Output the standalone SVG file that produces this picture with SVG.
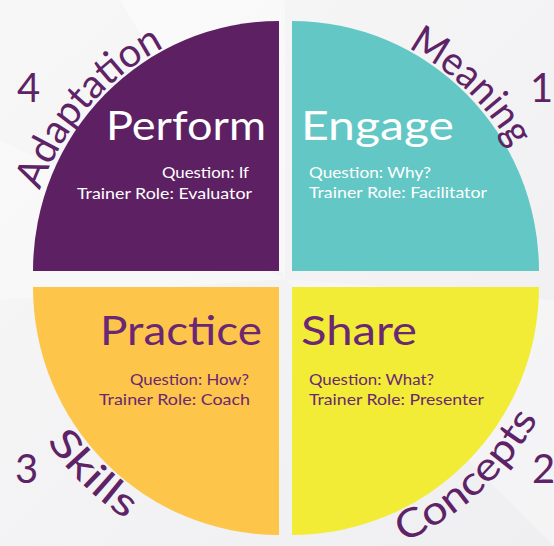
<svg xmlns="http://www.w3.org/2000/svg" width="554" height="546" viewBox="0 0 554 546">
  <defs>
    <path id="arcTop" d="M24.5,278.5 A261,261 0 0 1 546.5,278.5"/>
    <path id="arcBottom" d="M-3.5,278.5 A289,289 0 0 0 574.5,278.5"/>
    <linearGradient id="bg" x1="0" y1="0" x2="1" y2="1">
      <stop offset="0" stop-color="#f7f7f8"/>
      <stop offset="1" stop-color="#efeff1"/>
    </linearGradient>
  </defs>
  <style>
    text { font-family: "Lato", "Open Sans", "Liberation Sans", sans-serif; }
    .title { font-size: 40px; }
    .sub { font-size: 16px; }
    .curve { font-size: 40px; fill: #5e2366; }
    .num { font-size: 40px; fill: #5e2366; }
    .white { fill: #ffffff; }
    .purple { fill: #6a2773; }
  </style>
  <rect width="554" height="546" fill="url(#bg)"/>
  <polygon points="120,0 285,0 285,279" fill="#ffffff" opacity="0.45"/>
  <polygon points="0,140 0,300 285,279" fill="#ffffff" opacity="0.35"/>
  <polygon points="554,300 554,546 285,279" fill="#ffffff" opacity="0.3"/>

  <g id="perform">
    <path d="M279,271 L33,271 A246,250 0 0 1 279,21 Z" fill="#5d2163"/>
    <text class="title white" x="266" y="140" text-anchor="end" textLength="160" lengthAdjust="spacingAndGlyphs">Perform</text>
    <text class="sub white" x="249" y="178" text-anchor="end" textLength="87" lengthAdjust="spacingAndGlyphs">Question: If</text>
    <text class="sub white" x="252" y="199" text-anchor="end" textLength="175" lengthAdjust="spacingAndGlyphs">Trainer Role: Evaluator</text>
  </g>
  <g id="engage">
    <path d="M292,271 L292,21 A247,250 0 0 1 539,271 Z" fill="#63c7c5"/>
    <text class="title white" x="301" y="140" textLength="153" lengthAdjust="spacingAndGlyphs">Engage</text>
    <text class="sub white" x="309" y="178" textLength="122" lengthAdjust="spacingAndGlyphs">Question: Why?</text>
    <text class="sub white" x="309" y="198" textLength="178" lengthAdjust="spacingAndGlyphs">Trainer Role: Facilitator</text>
  </g>
  <g id="practice">
    <path d="M279,287 L279,535 A246,248 0 0 1 33,287 Z" fill="#fdc54a"/>
    <text class="title purple" x="262" y="345" text-anchor="end" textLength="162" lengthAdjust="spacingAndGlyphs">Practice</text>
    <text class="sub purple" x="249" y="385" text-anchor="end" textLength="119" lengthAdjust="spacingAndGlyphs">Question: How?</text>
    <text class="sub purple" x="250" y="405" text-anchor="end" textLength="151" lengthAdjust="spacingAndGlyphs">Trainer Role: Coach</text>
  </g>
  <g id="share">
    <path d="M292,287 L539,287 A247,248 0 0 1 292,535 Z" fill="#f2ec37"/>
    <text class="title purple" x="301" y="345" textLength="116" lengthAdjust="spacingAndGlyphs">Share</text>
    <text class="sub purple" x="309" y="385" textLength="125" lengthAdjust="spacingAndGlyphs">Question: What?</text>
    <text class="sub purple" x="309" y="405" textLength="175" lengthAdjust="spacingAndGlyphs">Trainer Role: Presenter</text>
  </g>

  <g id="label-adaptation">
    <text class="curve"><textPath href="#arcTop" startOffset="187" text-anchor="middle" textLength="194" lengthAdjust="spacingAndGlyphs">Adaptation</textPath></text>
    <text class="num" x="17" y="102">4</text>
  </g>
  <g id="label-meaning">
    <text class="curve"><textPath href="#arcTop" startOffset="610" text-anchor="middle" textLength="146" lengthAdjust="spacingAndGlyphs">Meaning</textPath></text>
    <text class="num" x="530" y="102">1</text>
  </g>
  <g id="label-concepts">
    <text class="curve"><textPath href="#arcBottom" startOffset="668" text-anchor="middle" textLength="186" lengthAdjust="spacingAndGlyphs">Concepts</textPath></text>
    <text class="num" x="532" y="483">2</text>
  </g>
  <g id="label-skills">
    <text class="curve"><textPath href="#arcBottom" startOffset="229" text-anchor="middle" textLength="112" lengthAdjust="spacingAndGlyphs">Skills</textPath></text>
    <text class="num" x="15" y="483">3</text>
  </g>
  <g id="connectors"></g>
</svg>
